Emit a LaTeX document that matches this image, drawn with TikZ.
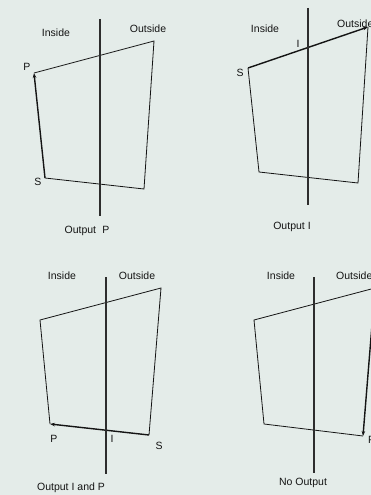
\documentclass[tikz,border=0pt]{standalone}
\usepackage{fontspec}
\setmainfont{Liberation Sans}
\usetikzlibrary{arrows.meta}
\definecolor{bg}{RGB}{228,236,233}
\definecolor{ink}{RGB}{20,20,20}
\definecolor{axis}{RGB}{45,45,45}
\begin{document}
\begin{tikzpicture}[x=1pt,y=-1pt,
  lbl/.style={font=\fontsize{10.5}{12}\selectfont, text=ink, inner sep=0pt},
  edge/.style={draw=ink, line width=0.8pt, line join=miter},
  clipline/.style={draw=axis, line width=1.3pt},
  arr/.style={draw=ink, line width=1.4pt, -{Stealth[length=5pt,width=3.5pt]}}]
\useasboundingbox (0,0) rectangle (371,495);
\fill[bg] (0,0) rectangle (371,495);
\clip (0,0) rectangle (371,495);
% ---------- panel 1 ----------
\coordinate (a1) at (34,73);
\coordinate (b1) at (154,41);
\coordinate (c1) at (144,189);
\coordinate (d1) at (45,178);
\coordinate (t1) at (100,19);
\coordinate (u1) at (100,216);
\draw[edge] (a1) -- (b1) -- (c1) -- (d1);
\draw[arr] (d1) -- (a1);
\draw[clipline] (t1) -- (u1);
\node[lbl] (in1) at (56,33) {Inside};
\node[lbl] (out1) at (148,29) {Outside};
\node[lbl] (p1) at (27,67) {P};
\node[lbl] (s1) at (38,182) {S};
\node[lbl] (o1) at (87,231) {Output\hspace{0.6em}P};
% ---------- panel 2 ----------
\coordinate (a2) at (248,68);
\coordinate (b2) at (368,27);
\coordinate (c2) at (358,183);
\coordinate (d2) at (259,172);
\coordinate (t2) at (308,8);
\coordinate (u2) at (308,205);
\draw[edge] (b2) -- (c2) -- (d2) -- (a2);
\draw[arr] (a2) -- (b2);
\draw[clipline] (t2) -- (u2);
\node[lbl] (in2) at (265,29) {Inside};
\node[lbl,anchor=west] (out2) at (337,24) {Outside};
\node[lbl] (i2) at (298,44) {I};
\node[lbl] (s2) at (240,73) {S};
\node[lbl] (o2) at (292,227) {Output I};
% ---------- panel 3 ----------
\coordinate (a3) at (40,320);
\coordinate (b3) at (161,288);
\coordinate (c3) at (149,435);
\coordinate (d3) at (50,424);
\coordinate (t3) at (106,277);
\coordinate (u3) at (106,474);
\draw[edge] (d3) -- (a3) -- (b3) -- (c3);
\draw[arr] (c3) -- (d3);
\draw[clipline] (t3) -- (u3);
\node[lbl] (in3) at (62,276) {Inside};
\node[lbl] (out3) at (137,276) {Outside};
\node[lbl] (p3) at (54,439) {P};
\node[lbl] (i3) at (112,439) {I};
\node[lbl] (s3) at (159,446) {S};
\node[lbl] (o3) at (71,488) {Output I and P};
% ---------- panel 4 ----------
\coordinate (a4) at (254,320);
\coordinate (b4) at (375,288);
\coordinate (c4) at (363,436);
\coordinate (d4) at (264,424);
\coordinate (t4) at (314,277);
\coordinate (u4) at (314,473);
\draw[edge] (c4) -- (d4) -- (a4) -- (b4);
\draw[arr] (b4) -- (c4);
\draw[clipline] (t4) -- (u4);
\node[lbl] (in4) at (281,276) {Inside};
\node[lbl,anchor=west] (out4) at (336,276) {Outside};
\node[lbl,anchor=west] (p4) at (368,440) {P};
\node[lbl] (o4) at (303,483) {No Output};
\end{tikzpicture}
\end{document}
